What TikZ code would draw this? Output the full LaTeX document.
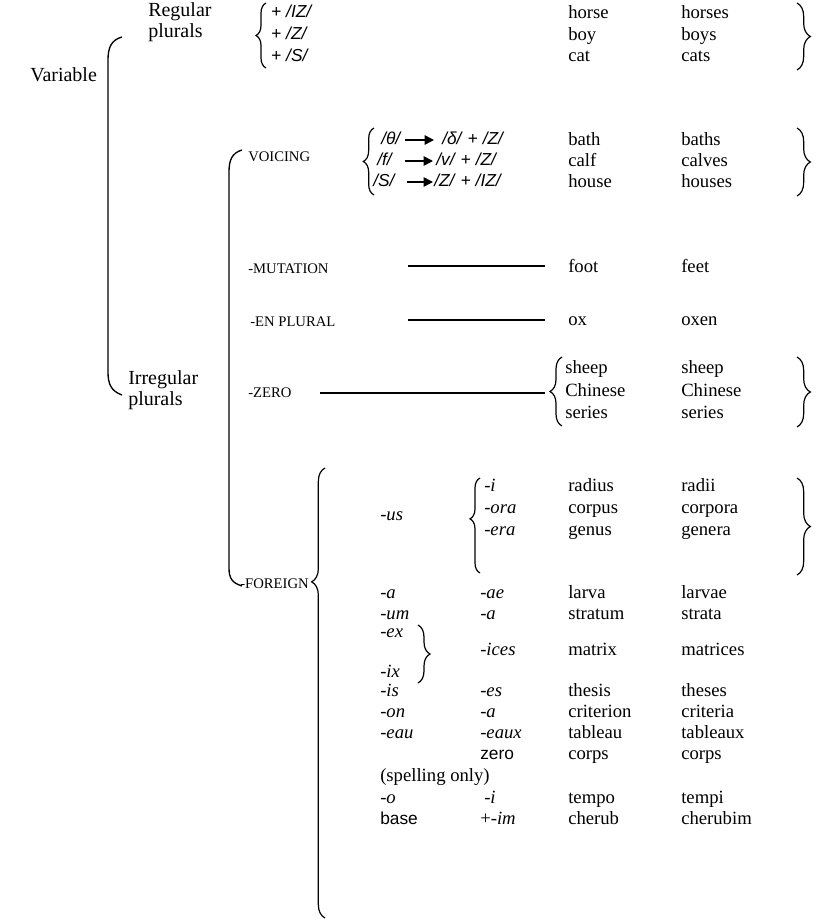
\documentclass[tikz,border=0pt]{standalone}
\usepackage{fontspec}
\setmainfont{Liberation Serif}
\newfontfamily\phfont{Liberation Sans}
\newfontfamily\sansfnt{Liberation Sans}
\usetikzlibrary{arrows.meta,decorations.pathreplacing}
\begin{document}
\begin{tikzpicture}[x=0.75pt,y=-0.75pt,
  txt/.style={font=\fontsize{14}{16}\selectfont, inner sep=0pt, text height=10pt, text depth=3pt, anchor=west},
  big/.style={txt, font=\fontsize{15}{17}\selectfont},
  itx/.style={txt, font=\fontsize{14}{16}\selectfont\itshape},
  sfx/.style={txt, font=\fontsize{13}{15}\selectfont\sansfnt},
  smcap/.style={font=\fontsize{11}{13}\selectfont, inner sep=0pt, text height=8pt, text depth=0pt, anchor=west},
  phon/.style={txt, font=\fontsize{13}{15}\selectfont\phfont},
  brk/.style={line width=1pt},
  ln/.style={line width=0.9pt},
  arr/.style={line width=1.1pt, -{Triangle[length=7pt,width=7pt]}},
  brc/.style={decorate, line width=0.9pt, decoration={brace, amplitude=#1}},
  brca/.style 2 args={decorate, line width=0.9pt, decoration={brace, amplitude=#1, aspect=#2}}
]
\useasboundingbox (0,0) rectangle (816,924);

% ---------- left hierarchy ----------
\node[big] (var)  at (30,77)  {Variable};
\node[big] (reg)  at (148,12) {Regular};
\node[big] (regp) at (148,33) {plurals};
\node[big] (irr)  at (128,380) {Irregular};
\node[big] (irrp) at (128,401) {plurals};
\draw[brk] (122,37) .. controls (111,40) and (108,48) .. (108,60) -- (108,372) .. controls (108,384) and (111,391) .. (122,395);

% ---------- regular plurals ----------
\draw[brc=7.5pt] (266,68) -- (266,3);
\node[phon] (p1) at (271,13) {+ \textit{/IZ/}};
\node[phon] (p2) at (271,35) {+ \textit{/Z/}};
\node[phon] (p3) at (271,57) {+ \textit{/S/}};
\node[txt] (s1) at (568,14) {horse};
\node[txt] (s2) at (568,36) {boy};
\node[txt] (s3) at (568,57) {cat};
\node[txt] (q1) at (681,14) {horses};
\node[txt] (q2) at (681,36) {boys};
\node[txt] (q3) at (681,57) {cats};
\draw[brc=10pt] (797,3) -- (797,70);

% ---------- irregular bracket ----------
\draw[brk] (242,150) .. controls (232,153) and (229,160) .. (229,172) -- (229,568) .. controls (229,578) and (232,583) .. (242,586);

% ---------- voicing ----------
\node[smcap] (voi) at (248,156) {VOICING};
\draw[brc=8pt] (374,195) -- (374,128);
\node[phon] (v1a) at (381,140) {\textit{/θ/}};
\node[phon] (v2a) at (377,161) {\textit{/f/}};
\node[phon] (v3a) at (373,182) {\textit{/S/}};
\node[phon] (v1b) at (442,140) {\textit{/δ/} + \textit{/Z/}};
\node[phon] (v2b) at (436,161) {\textit{/v/} + \textit{/Z/}};
\node[phon] (v3b) at (434,182) {\textit{/Z/} + \textit{/IZ/}};
\coordinate (a1s) at (405,140); \coordinate (a1e) at (434,140);
\coordinate (a2s) at (405,161); \coordinate (a2e) at (433,161);
\coordinate (a3s) at (407,182); \coordinate (a3e) at (433,182);
\draw[arr] (a1s) -- (a1e);
\draw[arr] (a2s) -- (a2e);
\draw[arr] (a3s) -- (a3e);
\node[txt] (s4) at (568,141) {bath};
\node[txt] (s5) at (568,162) {calf};
\node[txt] (s6) at (568,183) {house};
\node[txt] (q4) at (681,141) {baths};
\node[txt] (q5) at (681,162) {calves};
\node[txt] (q6) at (681,183) {houses};
\draw[brc=10pt] (797,128) -- (797,196);

% ---------- mutation / en plural / zero ----------
\node[smcap] (mut) at (248,268) {-MUTATION};
\coordinate (m1) at (408,266); \coordinate (m2) at (545,266);
\draw[ln] (m1) -- (m2);
\node[txt] (s7) at (568,268) {foot};
\node[txt] (q7) at (681,268) {feet};

\node[smcap] (enp) at (250,321) {-EN PLURAL};
\coordinate (e1) at (408,320); \coordinate (e2) at (545,320);
\draw[ln] (e1) -- (e2);
\node[txt] (s8) at (568,321) {ox};
\node[txt] (q8) at (681,321) {oxen};

\node[smcap] (zer) at (248,392) {-ZERO};
\coordinate (z1) at (320,393); \coordinate (z2) at (545,393);
\draw[ln] (z1) -- (z2);
\draw[brc=9pt] (562,426) -- (562,357);
\node[txt] (s9)  at (565,369) {sheep};
\node[txt] (s10) at (565,392) {Chinese};
\node[txt] (s11) at (565,414) {series};
\node[txt] (q9)  at (681,369) {sheep};
\node[txt] (q10) at (681,392) {Chinese};
\node[txt] (q11) at (681,414) {series};
\draw[brc=10pt] (797,357) -- (797,427);

% ---------- foreign ----------
\node[smcap] (for) at (240,583) {-FOREIGN};
\draw[brca={10pt}{0.747}] (325,918) -- (325,468);

\node[itx] (f1) at (380,516) {-us};
\draw[brca={7.5pt}{0.57}] (480,573) -- (480,478);
\node[itx] (g1) at (484,487) {-i};
\node[itx] (g2) at (484,509) {-ora};
\node[itx] (g3) at (484,531) {-era};
\node[txt] (s12) at (568,487) {radius};
\node[txt] (s13) at (568,509) {corpus};
\node[txt] (s14) at (568,531) {genus};
\node[txt] (q12) at (681,487) {radii};
\node[txt] (q13) at (681,509) {corpora};
\node[txt] (q14) at (681,531) {genera};
\draw[brc=10pt] (797,478) -- (797,575);

\node[itx] (f2) at (380,594) {-a};
\node[itx] (g4) at (480,594) {-ae};
\node[txt] (s15) at (568,594) {larva};
\node[txt] (q15) at (681,594) {larvae};

\node[itx] (f3) at (380,615) {-um};
\node[itx] (g5) at (480,615) {-a};
\node[txt] (s16) at (568,615) {stratum};
\node[txt] (q16) at (681,615) {strata};

\node[itx] (f4) at (380,633) {-ex};
\node[itx] (f5) at (380,673) {-ix};
\draw[brc=9pt] (418,625) -- (418,683);
\node[itx] (g6) at (480,651) {-ices};
\node[txt] (s17) at (568,651) {matrix};
\node[txt] (q17) at (681,651) {matrices};

\node[itx] (f6) at (380,692) {-is};
\node[itx] (g7) at (480,692) {-es};
\node[txt] (s18) at (568,692) {thesis};
\node[txt] (q18) at (681,692) {theses};

\node[itx] (f7) at (380,713) {-on};
\node[itx] (g8) at (480,713) {-a};
\node[txt] (s19) at (568,713) {criterion};
\node[txt] (q19) at (681,713) {criteria};

\node[itx] (f8) at (380,734) {-eau};
\node[itx] (g9) at (480,734) {-eaux};
\node[txt] (s20) at (568,734) {tableau};
\node[txt] (q20) at (681,734) {tableaux};

\node[sfx] (g10) at (480,755) {zero};
\node[txt] (s21) at (568,755) {corps};
\node[txt] (q21) at (681,755) {corps};

\node[txt] (spo) at (380,777) {(spelling only)};

\node[itx] (f9) at (380,799) {-o};
\node[itx] (g11) at (484,799) {-i};
\node[txt] (s22) at (568,799) {tempo};
\node[txt] (q22) at (681,799) {tempi};

\node[sfx] (f10) at (380,820) {base};
\node[txt] (g12) at (480,820) {+-\textit{im}};
\node[txt] (s23) at (568,820) {cherub};
\node[txt] (q23) at (681,820) {cherubim};
\end{tikzpicture}
\end{document}
